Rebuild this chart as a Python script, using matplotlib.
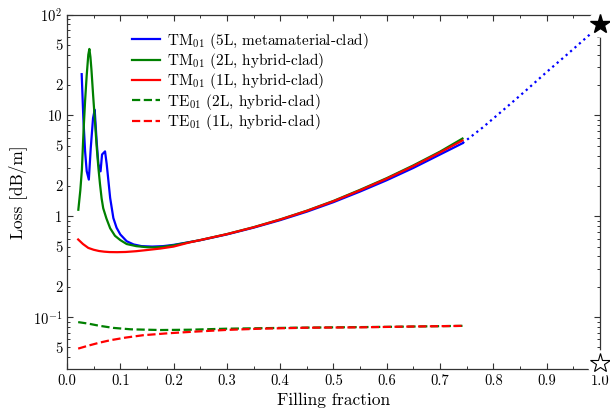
import numpy as np
import matplotlib
matplotlib.use('Agg')
import matplotlib.pyplot as plt
from matplotlib.ticker import LogLocator, FuncFormatter, MultipleLocator

plt.rcParams['font.family'] = 'serif'
plt.rcParams['font.serif'] = ['cmr10']
plt.rcParams['mathtext.fontset'] = 'cm'
plt.rcParams['axes.formatter.use_mathtext'] = True

# TM01, 5 layers, metamaterial-clad
f_tm5 = [0.0276, 0.0307, 0.034, 0.037, 0.041, 0.0446, 0.0489, 0.052, 0.0557, 0.0589,
         0.063, 0.0658, 0.0714, 0.0745, 0.081, 0.087, 0.093, 0.100, 0.112, 0.125,
         0.14, 0.16, 0.18, 0.20, 0.25, 0.30, 0.35, 0.40, 0.45, 0.50,
         0.55, 0.60, 0.65, 0.70, 0.742]
L_tm5 = [25.7, 9.4, 4.4, 2.8, 2.31, 4.75, 9.4, 11.4, 5.5, 3.3,
         2.79, 4.1, 4.4, 3.3, 1.52, 0.96, 0.77, 0.66, 0.565, 0.525,
         0.505, 0.50, 0.505, 0.52, 0.578, 0.66, 0.77, 0.915, 1.11, 1.38,
         1.76, 2.28, 3.02, 4.1, 5.3]

# dotted extrapolation of the 5L curve
f_ext = [0.742, 0.78, 0.82, 0.86, 0.90, 0.94, 0.98, 1.0]
L_ext = [5.3, 7.6, 11.5, 17.5, 27.0, 41.0, 63.0, 80.0]

# TM01, 2 layers, hybrid-clad
f_tm2 = [0.0213, 0.025, 0.028, 0.031, 0.034, 0.037, 0.040, 0.042, 0.044, 0.046,
         0.049, 0.052, 0.056, 0.059, 0.062, 0.065, 0.068, 0.074, 0.081, 0.09,
         0.10, 0.112, 0.13, 0.15, 0.162, 0.18, 0.20, 0.25, 0.30, 0.35,
         0.40, 0.45, 0.50, 0.55, 0.60, 0.65, 0.70, 0.742]
L_tm2 = [1.16, 1.8, 2.9, 6.9, 14.0, 25.0, 40.0, 45.7, 38.0, 28.0,
         16.0, 9.5, 4.7, 3.0, 2.07, 1.5, 1.2, 0.95, 0.76, 0.64,
         0.58, 0.53, 0.505, 0.493, 0.49, 0.497, 0.515, 0.58, 0.665, 0.778,
         0.93, 1.135, 1.42, 1.83, 2.39, 3.2, 4.38, 5.9]

# TM01, 1 layer, hybrid-clad
f_tm1 = [0.021, 0.03, 0.04, 0.05, 0.06, 0.07, 0.08, 0.094, 0.11, 0.13,
         0.15, 0.175, 0.20, 0.23, 0.25, 0.30, 0.35, 0.40, 0.45, 0.50,
         0.55, 0.60, 0.65, 0.70, 0.742]
L_tm1 = [0.588, 0.53, 0.485, 0.465, 0.452, 0.445, 0.441, 0.44, 0.442, 0.45,
         0.462, 0.478, 0.50, 0.55, 0.58, 0.664, 0.776, 0.927, 1.13, 1.41,
         1.81, 2.36, 3.15, 4.3, 5.65]

# TE01, 2 layers, hybrid-clad
f_te2 = [0.021, 0.04, 0.06, 0.087, 0.12, 0.175, 0.23, 0.30, 0.425, 0.613, 0.742]
L_te2 = [0.089, 0.086, 0.082, 0.078, 0.0755, 0.0743, 0.0748, 0.0766, 0.0783, 0.080, 0.0817]

# TE01, 1 layer, hybrid-clad
f_te1 = [0.021, 0.04, 0.06, 0.081, 0.11, 0.143, 0.19, 0.237, 0.30, 0.363,
         0.45, 0.55, 0.65, 0.742]
L_te1 = [0.0486, 0.052, 0.0555, 0.0588, 0.0625, 0.066, 0.069, 0.0715, 0.0745, 0.0766,
         0.0783, 0.079, 0.0805, 0.0817]

# reference points at f = 1
star_f = [1.0, 1.0]
star_L = [80.0, 0.035]

fig = plt.figure(figsize=(6.1, 4.16), dpi=100)
ax = fig.add_axes([0.1098, 0.113, 0.8738, 0.8517])

lw = 1.6
ax.plot(f_tm5, L_tm5, color='blue', lw=lw, label='TM$_{01}$ (5L, metamaterial-clad)')
ax.plot(f_tm2, L_tm2, color='green', lw=lw, label='TM$_{01}$ (2L, hybrid-clad)')
ax.plot(f_tm1, L_tm1, color='red', lw=lw, label='TM$_{01}$ (1L, hybrid-clad)')
ax.plot(f_te2, L_te2, color='green', lw=lw, ls='--', label='TE$_{01}$ (2L, hybrid-clad)')
ax.plot(f_te1, L_te1, color='red', lw=lw, ls='--', label='TE$_{01}$ (1L, hybrid-clad)')
ax.plot(f_ext, L_ext, color='blue', lw=lw, ls=':')

# white halo behind the stars cuts the frame
ax.plot(star_f, star_L, ls='none', marker='o', ms=19, mfc='white', mec='none',
        clip_on=False, zorder=5)
ax.plot(star_f[:1], star_L[:1], ls='none', marker='*', ms=15, mfc='black', mec='black',
        clip_on=False, zorder=6)
ax.plot(star_f[1:], star_L[1:], ls='none', marker='*', ms=15, mfc='white', mec='black',
        mew=0.8, clip_on=False, zorder=6)

ax.set_yscale('log')
ax.set_xlim(0, 1.0)
ax.set_ylim(0.0305, 100)

def major_fmt(v, pos):
    e = int(round(np.log10(v)))
    if e == 0:
        return '1'
    if e == 1:
        return '10'
    return r'$10^{%d}$' % e

def minor_fmt(v, pos):
    m = v / 10 ** np.floor(np.log10(v) + 1e-9)
    m = int(round(m))
    if m in (2, 5):
        return str(m)
    return ''

ax.yaxis.set_major_locator(LogLocator(base=10))
ax.yaxis.set_major_formatter(FuncFormatter(major_fmt))
ax.yaxis.set_minor_locator(LogLocator(base=10, subs=np.arange(2, 10)))
ax.yaxis.set_minor_formatter(FuncFormatter(minor_fmt))

ax.xaxis.set_major_locator(MultipleLocator(0.1))
ax.xaxis.set_minor_locator(MultipleLocator(0.05))
ax.xaxis.set_major_formatter(FuncFormatter(lambda v, p: '%.1f' % v))

ax.tick_params(which='both', direction='in', top=True, right=True, labelsize=10.5,
               color='#333333')
ax.tick_params(which='major', length=4.5, width=0.8)
ax.tick_params(which='minor', length=2.5, width=0.7)
for s in ax.spines.values():
    s.set_color('#333333')
    s.set_linewidth(0.9)

ax.set_xlabel('Filling fraction', fontsize=12.5)
ax.set_ylabel('Loss [dB/m]', fontsize=12.5)

ax.legend(loc='upper left', bbox_to_anchor=(0.122, 0.955), frameon=False, fontsize=11,
          handlelength=1.85, handletextpad=0.45, labelspacing=0.02, borderpad=0, borderaxespad=0)

plt.savefig('out.png', dpi=100)
